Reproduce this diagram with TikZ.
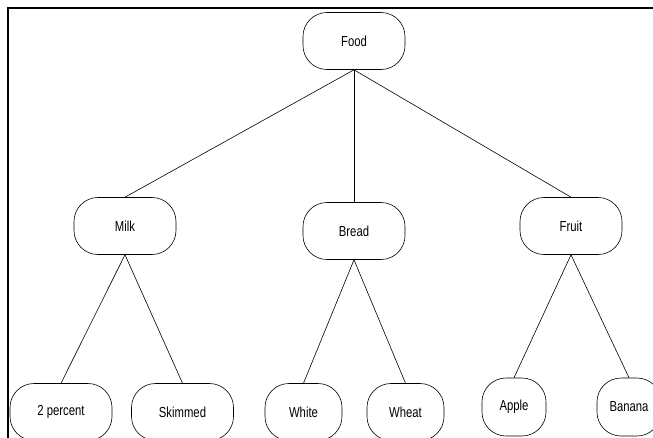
\documentclass[tikz,border=0pt]{standalone}
\usepackage{fontspec}
\setmainfont{Liberation Sans}[FakeStretch=0.78]
\usetikzlibrary{positioning}

\begin{document}
\begin{tikzpicture}[x=1pt, y=-1pt,
  item/.style={draw, line width=0.6pt, rounded corners=24pt, inner sep=0pt,
    minimum height=57pt, font=\fontsize{14.5}{16}\selectfont},
  wide/.style={item, minimum width=102pt},
  mid/.style={item, minimum width=77pt},
  slim/.style={item, minimum width=64pt, minimum height=58pt},
  edge/.style={line width=0.6pt}]
  \useasboundingbox (0,0) rectangle (653,437);
  \clip (0,0) rectangle (653,437);

  % outer frame, cut off at the right and bottom
  \draw[line width=2pt] (8,470) -- (8,8) -- (700,8);

  % top and middle level
  \node[wide] (food)  at (354,41)  {Food};
  \node[wide] (milk)  at (125,226) {Milk};
  \node[wide] (bread) at (354,231) {Bread};
  \node[wide] (fruit) at (571,226) {Fruit};

  % leaves
  \foreach \name/\x/\y/\kind/\txt in {
    twopct/61/412/wide/2 percent,
    skim/182.5/412/wide/Skimmed,
    white/303.5/412/mid/White,
    wheat/405.5/412/mid/Wheat,
    apple/514/407/slim/Apple,
    banana/629/407/slim/Banana
  }{
    \node[\kind] (\name) at (\x,\y) {\txt};
  }

  % connectors
  \foreach \a/\b in {food/milk, food/bread, food/fruit,
    milk/twopct, milk/skim, bread/white, bread/wheat,
    fruit/apple, fruit/banana}{
    \draw[edge] (\a.south) -- (\b.north);
  }
\end{tikzpicture}
\end{document}
